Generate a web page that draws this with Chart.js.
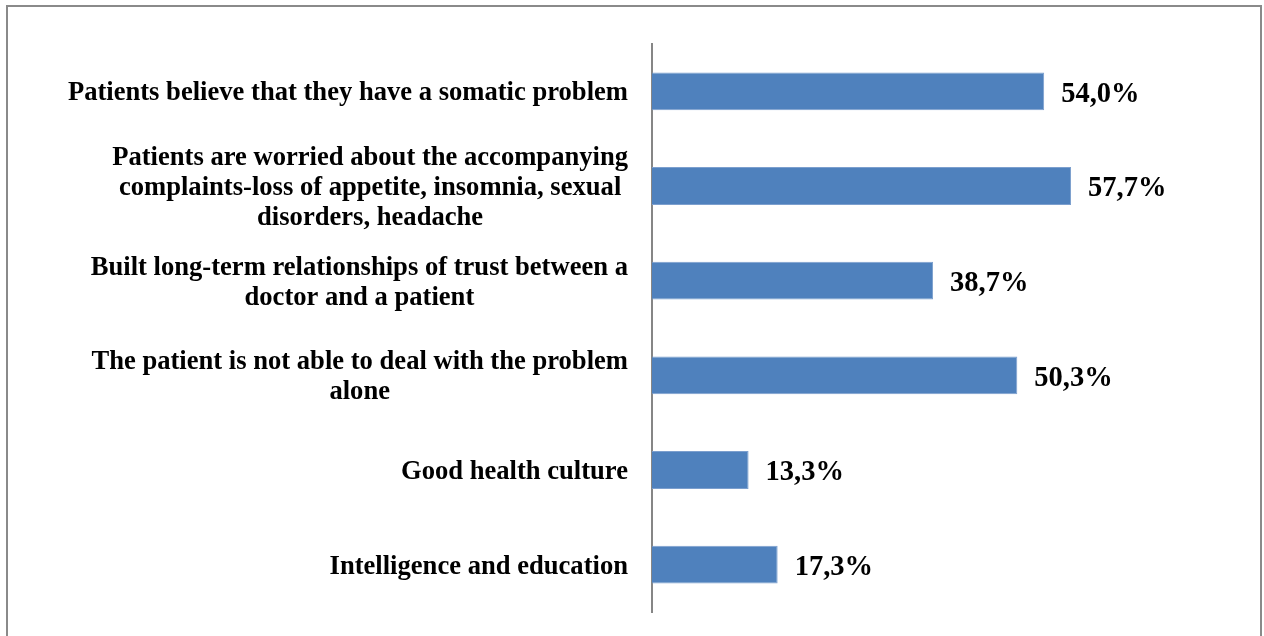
<!DOCTYPE html>
<html>
<head>
<meta charset="utf-8">
<script src="https://cdn.jsdelivr.net/npm/chart.js@4"></script>
<style>
  html, body { margin: 0; padding: 0; background: #ffffff; }
  #wrap { position: absolute; left: 0; top: 0; width: 1264px; height: 636px; }
</style>
</head>
<body>
<div id="wrap"><canvas id="chart" width="1264" height="636"></canvas></div>
<script>
// Reasons, each split into the lines it is printed on
const categories = [
  ["Patients believe that they have a somatic problem"],
  ["Patients are worried about the accompanying", "complaints-loss of appetite, insomnia, sexual", "disorders, headache"],
  ["Built long-term relationships of trust between a", "doctor and a patient"],
  ["The patient is not able to deal with the problem", "alone"],
  ["Good health culture"],
  ["Intelligence and education"]
];
// Share of respondents, percent
const shares = [54.0, 57.7, 38.7, 50.3, 13.3, 17.3];

const FONT_FAMILY = '"Liberation Serif", "Times New Roman", serif';

// Outer frame of the figure
const framePlugin = {
  id: 'frame',
  beforeDraw(chart) {
    const ctx = chart.ctx;
    ctx.save();
    ctx.strokeStyle = '#8a8a8a';
    ctx.lineWidth = 2;
    ctx.beginPath();
    ctx.moveTo(7, 640);
    ctx.lineTo(7, 6);
    ctx.lineTo(1261, 6);
    ctx.lineTo(1261, 640);
    ctx.stroke();
    ctx.restore();
  }
};

// Category labels: block right-aligned to the axis, lines centred inside the block
const categoryLabelPlugin = {
  id: 'categoryLabels',
  afterDraw(chart) {
    const ctx = chart.ctx;
    const yScale = chart.scales.y;
    const right = chart.chartArea.left - 24;
    const lineH = 30;
    ctx.save();
    ctx.font = 'bold 26.6px ' + FONT_FAMILY;
    ctx.fillStyle = '#000000';
    ctx.textBaseline = 'middle';
    ctx.textAlign = 'center';
    chart.data.labels.forEach((lines, i) => {
      const yc = yScale.getPixelForValue(i) + 2;
      const widest = Math.max(...lines.map(l => ctx.measureText(l).width));
      const xc = right - widest / 2;
      const y0 = yc - (lines.length - 1) * lineH / 2;
      lines.forEach((l, k) => ctx.fillText(l, xc, y0 + k * lineH));
    });
    ctx.restore();
  }
};

// Value labels just past the end of each bar
const valueLabelPlugin = {
  id: 'valueLabels',
  afterDatasetsDraw(chart) {
    const ctx = chart.ctx;
    const meta = chart.getDatasetMeta(0);
    ctx.save();
    ctx.font = 'bold 28.5px ' + FONT_FAMILY;
    ctx.fillStyle = '#000000';
    ctx.textBaseline = 'middle';
    ctx.textAlign = 'left';
    meta.data.forEach((bar, i) => {
      const v = chart.data.datasets[0].data[i];
      const txt = v.toFixed(1).replace('.', ',') + '%';
      ctx.fillText(txt, bar.x + 17, bar.y + 3);
    });
    ctx.restore();
  }
};

new Chart(document.getElementById('chart'), {
  type: 'bar',
  data: {
    labels: categories,
    datasets: [{
      data: shares,
      backgroundColor: '#4f81bd',
      borderColor: '#7c9fce',
      borderWidth: 1,
      barPercentage: 0.4,
      categoryPercentage: 1.0
    }]
  },
  options: {
    indexAxis: 'y',
    responsive: false,
    animation: false,
    devicePixelRatio: 1,
    layout: { padding: { left: 0, right: 31, top: 44, bottom: 24 } },
    plugins: {
      legend: { display: false },
      tooltip: { enabled: false }
    },
    scales: {
      x: {
        display: false,
        min: 0,
        max: 80
      },
      y: {
        ticks: { display: false },
        grid: { display: false, drawTicks: false },
        border: { display: true, color: '#868686', width: 2 },
        afterFit(scale) { scale.width = 652; }
      }
    }
  },
  plugins: [framePlugin, categoryLabelPlugin, valueLabelPlugin]
});
</script>
</body>
</html>
